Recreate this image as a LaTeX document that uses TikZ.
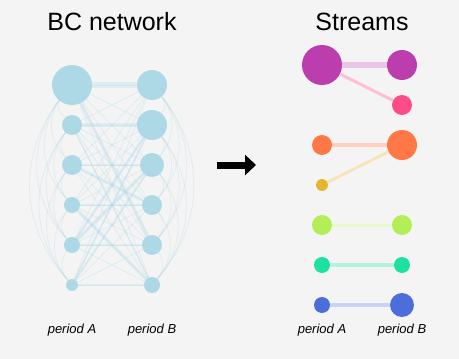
\documentclass[tikz,border=0pt]{standalone}
\usepackage{fontspec}
\setmainfont{Liberation Sans}
\usetikzlibrary{arrows.meta}
\usepackage{xcolor}
\definecolor{bg}{HTML}{F4F4F4}
\definecolor{bcblue}{HTML}{ADD8E6}
\definecolor{spurple}{HTML}{BB3DAE}
\definecolor{spink}{HTML}{FF4B87}
\definecolor{sorange}{HTML}{FF7845}
\definecolor{syellow}{HTML}{E4B62E}
\definecolor{slime}{HTML}{B2EE58}
\definecolor{sgreen}{HTML}{1EE0A1}
\definecolor{sblue}{HTML}{4C6EDB}

\begin{document}
\begin{tikzpicture}[x=1pt, y=-1pt,
    dot/.style={circle, inner sep=0pt, minimum size=#1},
    link/.style={draw=bcblue, opacity=0.28, line width=0.8pt},
    title/.style={font=\fontsize{25}{29}\selectfont},
    period/.style={font=\fontsize{13}{15}\selectfont\itshape}]
    \fill[bg] (0,0) rectangle (459,359);
    \useasboundingbox (0,0) rectangle (459,359);
    \node[title] (bct) at (112,22) {BC network};
    \node[title] (stt) at (362,22) {Streams};
    % BC network
    \foreach \i/\y/\sa/\sb in {1/85/40/30, 2/125/20/30, 3/165/20/24, 4/205/16/20, 5/245/16/20, 6/285/12/16} {
        \node[dot=\sa pt, fill=bcblue] (a\i) at (72,\y) {};
        \node[dot=\sb pt, fill=bcblue] (b\i) at (152,\y) {};
    }
    \foreach \i in {1,...,6}
        \foreach \j in {1,...,6}
            \draw[link] (a\i) -- (b\j);
    \foreach \i/\j/\w in {1/1/6, 2/2/4, 3/3/2.5, 4/4/2, 5/5/2, 6/6/2, 1/5/3.5, 3/4/3, 4/6/3.5, 5/3/3.5, 5/2/2.5, 6/2/2, 2/6/1.5, 6/3/2}
        \draw[link, line width=\w pt] (a\i) -- (b\j);
    \foreach \i in {1,...,5} {
        \pgfmathtruncatemacro{\k}{\i+1}
        \foreach \j in {\k,...,6} {
            \draw[link] (a\i) to[bend right=40] (a\j);
            \draw[link] (b\i) to[bend left=40] (b\j);
        }
    }
    \node[period] (pa) at (72,330) {period A};
    \node[period] (pb) at (152,330) {period B};
    % arrow
    \coordinate (arra) at (217,165);
    \coordinate (arrb) at (256,165);
    \draw[line width=7pt, -{Triangle[length=11pt, width=20pt]}] (arra) -- (arrb);
    % streams
    \node[dot=40pt, fill=spurple] (p1) at (322,65) {};
    \node[dot=30pt, fill=spurple] (p2) at (402,65) {};
    \node[dot=20pt, fill=spink] (p3) at (402,105) {};
    \node[dot=20pt, fill=sorange] (o1) at (322,145) {};
    \node[dot=30pt, fill=sorange] (o2) at (402,145) {};
    \node[dot=12pt, fill=syellow] (y1) at (322,185) {};
    \node[dot=20pt, fill=slime] (l1) at (322,225) {};
    \node[dot=20pt, fill=slime] (l2) at (402,225) {};
    \node[dot=16pt, fill=sgreen] (g1) at (322,265) {};
    \node[dot=16pt, fill=sgreen] (g2) at (402,265) {};
    \node[dot=16pt, fill=sblue] (u1) at (322,305) {};
    \node[dot=24pt, fill=sblue] (u2) at (402,305) {};
    \draw[spurple!30, line width=6pt] (p1) -- (p2);
    \draw[spink!35, line width=3pt] (p1) -- (p3);
    \draw[sorange!35, line width=4pt] (o1) -- (o2);
    \draw[syellow!35, line width=3pt] (y1) -- (o2);
    \draw[slime!30, line width=3pt] (l1) -- (l2);
    \draw[sgreen!35, line width=4pt] (g1) -- (g2);
    \draw[sblue!30, line width=4pt] (u1) -- (u2);
    \node[period] (sa) at (322,330) {period A};
    \node[period] (sb) at (402,330) {period B};
\end{tikzpicture}
\end{document}
